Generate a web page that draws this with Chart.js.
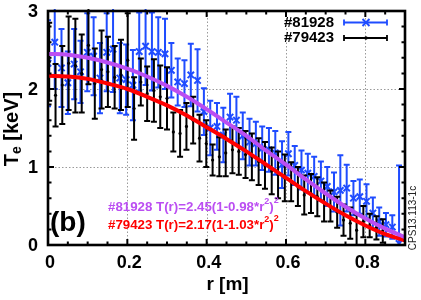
<!DOCTYPE html>
<html lang="en">

<head>
  <meta charset="UTF-8">
  <title>Te profile (b)</title>
  <script src="https://cdn.jsdelivr.net/npm/chart.js"></script>
  <style>
    html, body { margin: 0; padding: 0; background: #fff; }
    canvas { display: block; }
  </style>
</head>

<body>
  <canvas id="teChart" width="421" height="300"></canvas>

  <script>
    // shot #81928 (blue, x markers)
    const r81928 = [0.000, 0.017, 0.034, 0.050, 0.066, 0.082, 0.099, 0.115, 0.131, 0.148, 0.164, 0.181, 0.197, 0.214,
      0.230, 0.246, 0.262, 0.278, 0.295, 0.311, 0.327, 0.344, 0.360, 0.377, 0.393, 0.409, 0.426, 0.442, 0.459, 0.475,
      0.491, 0.508, 0.524, 0.540, 0.557, 0.573, 0.590, 0.606, 0.622, 0.639, 0.655, 0.671, 0.688, 0.704, 0.721, 0.737,
      0.753, 0.770, 0.786, 0.803, 0.819, 0.835, 0.852, 0.868, 0.885];
    const te81928 = [2.33, 2.60, 2.27, 2.08, 2.32, 2.22, 2.47, 2.42, 2.14, 2.47, 2.51, 2.14, 2.12, 2.05,
      2.48, 2.55, 2.48, 2.47, 2.45, 2.24, 2.09, 2.07, 2.18, 2.11, 1.71, 1.50, 1.52, 1.41, 1.64, 1.60,
      1.40, 1.32, 1.30, 1.24, 1.22, 1.18, 1.03, 1.17, 1.02, 0.96, 0.92, 0.88, 0.82, 0.75, 0.68, 0.70,
      0.73, 0.60, 0.62, 0.56, 0.41, 0.30, 0.26, 0.23, 0.02];
    const err81928 = [0.55, 0.6, 0.5, 0.4, 0.45, 0.4, 0.5, 0.5, 0.45, 0.5, 0.55, 0.45, 0.45, 0.45,
      0.5, 0.5, 0.5, 0.45, 0.45, 0.35, 0.3, 0.3, 0.4, 0.4, 0.3, 0.35, 0.3, 0.35, 0.3, 0.3,
      0.3, 0.3, 0.28, 0.28, 0.28, 0.28, 0.3, 0.28, 0.25, 0.25, 0.25, 0.25, 0.25, 0.25, 0.25, 0.45,
      0.3, 0.22, 0.22, 0.22, 0.2, 0.18, 0.15, 0.15, 1.0];

    // shot #79423 (black, dots)
    const r79423 = [0.003, 0.019, 0.036, 0.052, 0.069, 0.085, 0.102, 0.118, 0.135, 0.151, 0.168, 0.184, 0.201,
      0.217, 0.234, 0.250, 0.267, 0.283, 0.300, 0.316, 0.333, 0.349, 0.366, 0.382, 0.399, 0.415, 0.432,
      0.448, 0.465, 0.481, 0.498, 0.514, 0.531, 0.547, 0.564, 0.580, 0.597, 0.613, 0.630, 0.646, 0.663,
      0.679, 0.696, 0.712, 0.729, 0.745, 0.762, 0.778, 0.795, 0.811, 0.828, 0.844];
    const te79423 = [2.35, 1.92, 2.05, 2.33, 2.30, 2.20, 2.56, 2.07, 2.25, 2.22, 2.15, 2.18, 2.37,
      1.75, 2.09, 1.94, 1.98, 1.90, 1.88, 1.45, 1.43, 1.52, 1.60, 1.37, 1.30, 1.09, 1.13,
      1.18, 1.22, 1.20, 1.16, 1.13, 1.07, 1.02, 0.95, 0.90, 0.86, 0.81, 0.75, 0.64, 0.66,
      0.62, 0.55, 0.50, 0.42, 0.32, 0.28, 0.19, 0.30, 0.25, 0.22, 0.18];
    const err79423 = [0.5, 0.4, 0.5, 0.6, 0.6, 0.5, 0.5, 0.45, 0.5, 0.45, 0.4, 0.45, 0.6,
      0.4, 0.3, 0.35, 0.4, 0.4, 0.4, 0.25, 0.3, 0.3, 0.3, 0.3, 0.3, 0.2, 0.25,
      0.3, 0.3, 0.3, 0.3, 0.3, 0.3, 0.3, 0.3, 0.3, 0.3, 0.25, 0.25, 0.25, 0.25,
      0.25, 0.25, 0.2, 0.2, 0.2, 0.2, 0.2, 0.2, 0.15, 0.15, 0.15];

    // fitted profiles
    const rFit = [0, 0.05, 0.1, 0.15, 0.2, 0.25, 0.3, 0.35, 0.4, 0.45, 0.5, 0.55, 0.6, 0.65, 0.7, 0.75, 0.8, 0.85, 0.9];
    const fit81928 = [2.45, 2.44, 2.40, 2.34, 2.26, 2.16, 2.04, 1.90, 1.74, 1.57, 1.40, 1.21, 1.03, 0.84, 0.66, 0.49, 0.34, 0.21, 0.10];
    const fit79423 = [2.17, 2.16, 2.13, 2.07, 2.00, 1.90, 1.79, 1.66, 1.51, 1.36, 1.20, 1.03, 0.86, 0.69, 0.53, 0.38, 0.25, 0.14, 0.06];

    const xTicks = [0, 0.2, 0.4, 0.6, 0.8];
    const xTickLabels = ['0', '0.2', '0.4', '0.6', '0.8'];
    const yTicks = [0, 1, 2, 3];
    const yTickLabels = ['0', '1', '2', '3'];

    const BLUE = '#1f4cff';
    const PURPLE = '#bb4ef2';
    const RED = '#ff0000';
    const BOLD = 'bold {s}px "Liberation Sans", Arial, sans-serif';
    const font = (s, b = true) => b ? BOLD.replace('{s}', s) : s + 'px "Liberation Sans", Arial, sans-serif';

    const pts = (xs, ys) => xs.map((x, i) => ({ x: x, y: ys[i] }));

    // draws gnuplot-ish frame, ticks, error bars and the text bits
    const gnuplotLook = {
      id: 'gnuplotLook',
      beforeDatasetsDraw(chart) {
        const { ctx, chartArea: a, scales: { x, y } } = chart;
        ctx.save();
        ctx.strokeStyle = '#9a9a9a';
        ctx.lineWidth = 1;
        ctx.setLineDash([1.5, 2]);
        xTicks.forEach(v => {
          if (v <= 0) return;
          const px = Math.round(x.getPixelForValue(v)) + 0.5;
          ctx.beginPath(); ctx.moveTo(px, a.top); ctx.lineTo(px, a.bottom); ctx.stroke();
        });
        yTicks.forEach(v => {
          if (v <= 0 || v >= 3) return;
          const py = Math.round(y.getPixelForValue(v)) + 0.5;
          ctx.beginPath(); ctx.moveTo(a.left, py); ctx.lineTo(a.right, py); ctx.stroke();
        });
        ctx.restore();
      },
      beforeDatasetDraw(chart, args) {
        const ds = chart.data.datasets[args.index];
        if (!ds.errors) return;
        const { ctx, chartArea: a, scales: { x, y } } = chart;
        ctx.save();
        ctx.beginPath();
        ctx.rect(a.left, a.top - 2, a.right - a.left, a.bottom - a.top + 2);
        ctx.clip();
        ctx.strokeStyle = ds.errColor;
        ctx.lineWidth = 2;
        ds.data.forEach((p, i) => {
          const px = x.getPixelForValue(p.x);
          const lo = y.getPixelForValue(p.y - ds.errors[i]);
          const hi = y.getPixelForValue(p.y + ds.errors[i]);
          ctx.beginPath();
          ctx.moveTo(px, lo); ctx.lineTo(px, hi);
          ctx.moveTo(px - 3, lo); ctx.lineTo(px + 3, lo);
          ctx.moveTo(px - 3, hi); ctx.lineTo(px + 3, hi);
          ctx.stroke();
        });
        ctx.restore();
      },
      afterDatasetsDraw(chart) {
        const { ctx, chartArea: a, scales: { x, y } } = chart;
        ctx.save();
        ctx.strokeStyle = '#000';

        // minor + major ticks, inward on all sides
        ctx.lineWidth = 2;
        for (let v = 0; v <= 0.9001; v += 0.05) {
          const px = x.getPixelForValue(v);
          const major = Math.abs(v / 0.2 - Math.round(v / 0.2)) < 1e-6;
          const len = major ? 6 : 3.5;
          ctx.beginPath();
          ctx.moveTo(px, a.bottom); ctx.lineTo(px, a.bottom - len);
          ctx.moveTo(px, a.top); ctx.lineTo(px, a.top + len);
          ctx.stroke();
        }
        for (let v = 0; v <= 3.0001; v += 0.2) {
          const py = y.getPixelForValue(v);
          const major = Math.abs(v - Math.round(v)) < 1e-6;
          const len = major ? 6 : 3.5;
          ctx.beginPath();
          ctx.moveTo(a.left, py); ctx.lineTo(a.left + len, py);
          ctx.moveTo(a.right, py); ctx.lineTo(a.right - len, py);
          ctx.stroke();
        }

        // frame
        ctx.lineWidth = 2.6;
        ctx.strokeRect(a.left, a.top, a.right - a.left, a.bottom - a.top);

        // tick labels
        ctx.fillStyle = '#000';
        ctx.font = font(18);
        ctx.textAlign = 'center';
        ctx.textBaseline = 'middle';
        xTicks.forEach((v, i) => ctx.fillText(xTickLabels[i], x.getPixelForValue(v) + 2, a.bottom + 18));
        ctx.textAlign = 'right';
        yTicks.forEach((v, i) => ctx.fillText(yTickLabels[i], a.left - 10, y.getPixelForValue(v) + 1));

        // axis titles
        ctx.font = font(19);
        ctx.textAlign = 'center';
        ctx.fillText('r [m]', (a.left + a.right) / 2 + 1, 285);

        ctx.save();
        ctx.translate(12, 129);
        ctx.rotate(-Math.PI / 2);
        ctx.textAlign = 'left';
        ctx.font = font(20);
        const wT = ctx.measureText('T').width;
        const wRest = ctx.measureText(' [keV]').width;
        ctx.font = font(14);
        const wE = ctx.measureText('e').width;
        let sx = -(wT + wE + wRest) / 2;
        ctx.font = font(20);
        ctx.fillText('T', sx, 0);
        ctx.font = font(14);
        ctx.fillText('e', sx + wT, 5);
        ctx.font = font(20);
        ctx.fillText(' [keV]', sx + wT + wE, 0);
        ctx.restore();

        // panel label
        ctx.font = font(28);
        ctx.textAlign = 'left';
        ctx.fillText('(b)', 50, 223);

        // fit formulas
        const formula = (color, shot, a0, b0, px, py) => {
          ctx.fillStyle = color;
          let cx = px;
          const put = (t, size, dy) => {
            ctx.font = font(size);
            ctx.fillText(t, cx, py + dy);
            cx += ctx.measureText(t).width;
          };
          put(shot + ' T(r)=' + a0 + '(1-' + b0 + '*r', 13.3, 0);
          put('2', 9, -5);
          put(')', 13.3, 0);
          put('2', 9, -6);
        };
        ctx.textBaseline = 'middle';
        formula(PURPLE, '#81928', '2.45', '0.98', 108, 207);
        formula(RED, '#79423', '2.17', '1.03', 108, 225);

        // key, top right
        ctx.fillStyle = '#000';
        ctx.font = font(15);
        ctx.textAlign = 'right';
        ctx.fillText('#81928', 334, 23);
        ctx.fillText('#79423', 334, 38);
        const key = (color, py, marker) => {
          ctx.strokeStyle = color;
          ctx.lineWidth = 1.8;
          ctx.beginPath();
          ctx.moveTo(344, py); ctx.lineTo(387, py);
          ctx.moveTo(344, py - 3); ctx.lineTo(344, py + 3);
          ctx.moveTo(387, py - 3); ctx.lineTo(387, py + 3);
          ctx.stroke();
          if (marker === 'x') {
            ctx.lineWidth = 2;
            ctx.beginPath();
            ctx.moveTo(362.5, py - 3.5); ctx.lineTo(369.5, py + 3.5);
            ctx.moveTo(362.5, py + 3.5); ctx.lineTo(369.5, py - 3.5);
            ctx.stroke();
          } else {
            ctx.fillStyle = color;
            ctx.beginPath(); ctx.arc(366, py, 1.7, 0, Math.PI * 2); ctx.fill();
          }
        };
        key(BLUE, 22.5, 'x');
        key('#000', 38, 'dot');

        // figure id, rotated on the right
        ctx.save();
        ctx.translate(413, 218);
        ctx.rotate(-Math.PI / 2);
        ctx.fillStyle = '#222';
        ctx.font = font(10, false);
        ctx.textAlign = 'center';
        ctx.fillText('CPS13.113-1c', 0, 0);
        ctx.restore();

        ctx.restore();
      }
    };

    const chart = new Chart(document.getElementById('teChart'), {
      type: 'scatter',
      data: {
        datasets: [
          {
            label: 'fit #81928',
            type: 'line',
            data: pts(rFit, fit81928),
            borderColor: PURPLE,
            borderWidth: 4,
            pointRadius: 0,
            cubicInterpolationMode: 'monotone',
            order: 0
          },
          {
            label: 'fit #79423',
            type: 'line',
            data: pts(rFit, fit79423),
            borderColor: RED,
            borderWidth: 4,
            pointRadius: 0,
            cubicInterpolationMode: 'monotone',
            order: 0
          },
          {
            label: '#79423',
            data: pts(r79423, te79423),
            errors: err79423,
            errColor: '#000',
            pointStyle: 'circle',
            pointRadius: 1.6,
            backgroundColor: '#000',
            borderWidth: 0,
            order: 1
          },
          {
            label: '#81928',
            data: pts(r81928, te81928),
            errors: err81928,
            errColor: BLUE,
            pointStyle: 'crossRot',
            pointRadius: 4.5,
            borderColor: BLUE,
            borderWidth: 2,
            order: 2
          }
        ]
      },
      options: {
        responsive: false,
        animation: false,
        events: [],
        layout: {
          padding: { left: 48, right: 16, top: 11, bottom: 55 }
        },
        scales: {
          x: { type: 'linear', min: 0, max: 0.9, display: false },
          y: { type: 'linear', min: 0, max: 3, display: false }
        },
        plugins: {
          legend: { display: false },
          tooltip: { enabled: false }
        }
      },
      plugins: [gnuplotLook]
    });
  </script>
</body>

</html>
